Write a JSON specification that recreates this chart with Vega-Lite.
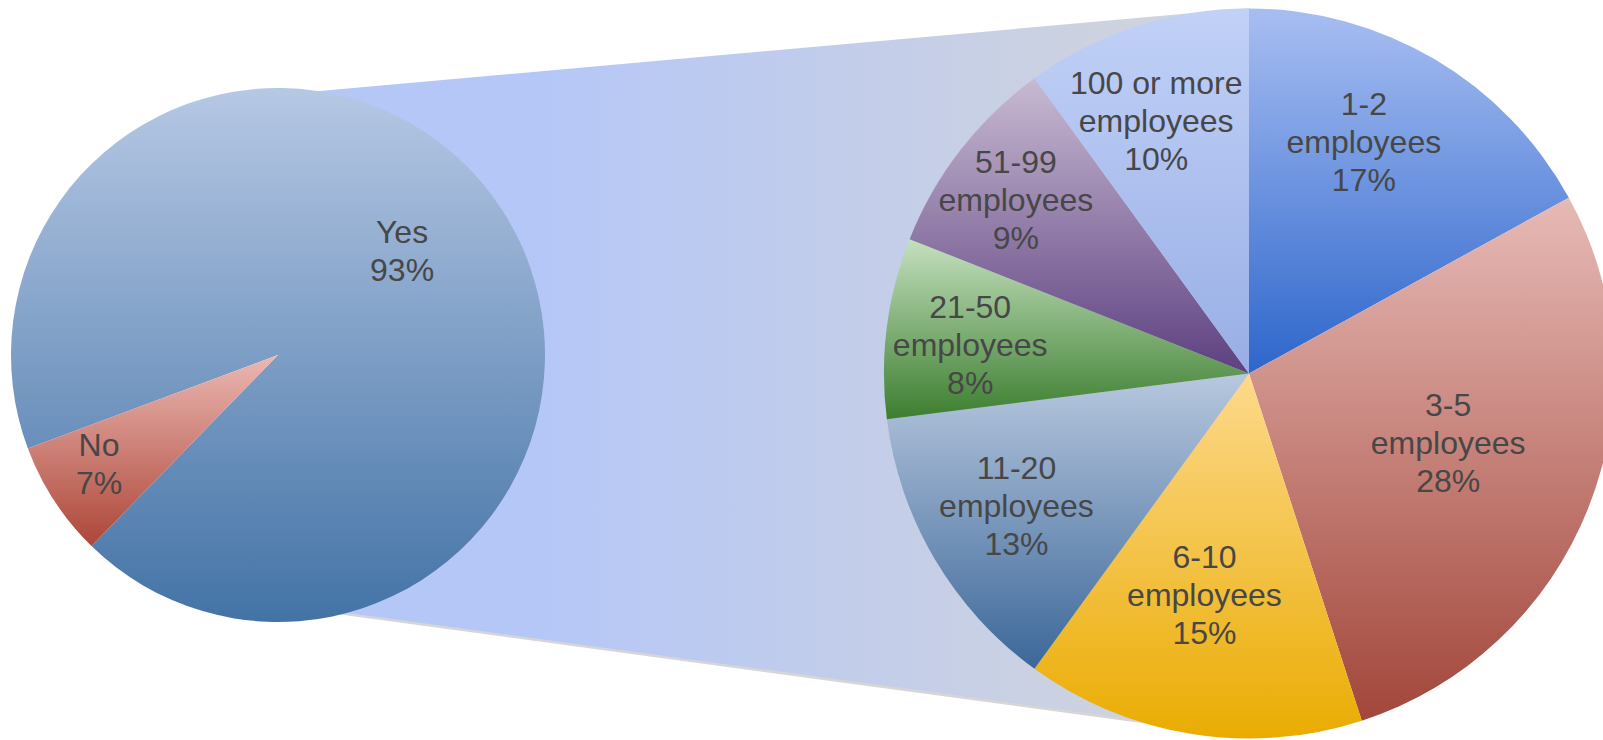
{
  "$schema": "https://vega.github.io/schema/vega-lite/v6.json",
  "width": 1603,
  "height": 740,
  "autosize": {"type": "none"},
  "padding": 0,
  "background": "white",
  "config": {"view": {"stroke": null}, "text": {"font": "Liberation Sans", "fontSize": 32, "lineHeight": 38, "color": "#474747", "lineBreak": "\n", "align": "center", "baseline": "middle"}},
  "datasets": {
    "overall": [
      {"cat": "No", "label": "No", "pct": 7, "rank": 1},
      {"cat": "Yes", "label": "Yes", "pct": 93, "rank": 2}
    ],
    "size": [
      {"cat": "1-2 employees", "label": "1-2\nemployees", "pct": 17, "rank": 1},
      {"cat": "3-5 employees", "label": "3-5\nemployees", "pct": 28, "rank": 2},
      {"cat": "6-10 employees", "label": "6-10\nemployees", "pct": 15, "rank": 3},
      {"cat": "11-20 employees", "label": "11-20\nemployees", "pct": 13, "rank": 4},
      {"cat": "21-50 employees", "label": "21-50\nemployees", "pct": 8, "rank": 5},
      {"cat": "51-99 employees", "label": "51-99\nemployees", "pct": 9, "rank": 6},
      {"cat": "100 or more employees", "label": "100 or more\nemployees", "pct": 10, "rank": 7}
    ],
    "connector": [
      {"x": 300, "top": 92.8, "bottom": 606.6},
      {"x": 1249, "top": 8, "bottom": 735}
    ]
  },
  "layer": [
    {
      "data": {"name": "connector"},
      "mark": {"type": "line", "color": "#8a8a8a", "strokeWidth": 5, "opacity": 0.35},
      "encoding": {
        "x": {"field": "x", "type": "quantitative", "scale": {"domain": [0, 1603], "nice": false, "zero": false}, "axis": null},
        "y": {"field": "bottom", "type": "quantitative", "scale": {"domain": [0, 740], "reverse": true, "nice": false, "zero": false}, "axis": null}
      }
    },
    {
      "data": {"name": "connector"},
      "mark": {"type": "area", "color": {"gradient": "linear", "x1": 0, "y1": 0, "x2": 1, "y2": 0, "stops": [{"offset": 0.25, "color": "#b5c7f7"}, {"offset": 1, "color": "#d3d5da"}]}},
      "encoding": {
        "x": {"field": "x", "type": "quantitative"},
        "y": {"field": "top", "type": "quantitative"},
        "y2": {"field": "bottom"}
      }
    },
    {
      "data": {"name": "overall"},
      "encoding": {
        "x": {"datum": 278, "type": "quantitative"},
        "y": {"datum": 355, "type": "quantitative"},
        "theta": {"field": "pct", "type": "quantitative", "stack": true, "scale": {"domain": [0, 100], "range": [3.915, 10.1982]}},
        "order": {"field": "rank", "type": "quantitative"},
        "opacity": {"condition": {"test": "datum.cat === 'Yes'", "value": 1}, "value": 0}
      },
      "layer": [
        {"mark": {"type": "arc", "outerRadius": 267, "color": {"gradient": "linear", "x1": 0, "y1": 0, "x2": 0, "y2": 1, "stops": [{"offset": 0, "color": "#b6c8e4"}, {"offset": 1, "color": "#4373a6"}]}}},
        {"mark": {"type": "text", "radius": 160, "dx": -10, "dy": -35, "text": {"expr": "datum.label + '\\n' + datum.pct + '%'"}}}
      ]
    },
    {
      "data": {"name": "overall"},
      "encoding": {
        "x": {"datum": 278, "type": "quantitative"},
        "y": {"datum": 355, "type": "quantitative"},
        "theta": {"field": "pct", "type": "quantitative", "stack": true, "scale": {"domain": [0, 100], "range": [3.915, 10.1982]}},
        "order": {"field": "rank", "type": "quantitative"},
        "opacity": {"condition": {"test": "datum.cat === 'No'", "value": 1}, "value": 0}
      },
      "layer": [
        {"mark": {"type": "arc", "outerRadius": 267, "color": {"gradient": "linear", "x1": 0, "y1": 0, "x2": 0, "y2": 1, "stops": [{"offset": 0, "color": "#ebb8b2"}, {"offset": 1, "color": "#ad4638"}]}}},
        {"mark": {"type": "text", "radius": 210, "dx": -3, "dy": -24, "text": {"expr": "datum.label + '\\n' + datum.pct + '%'"}}}
      ]
    },
    {
      "data": {"name": "size"},
      "encoding": {
        "x": {"datum": 1249, "type": "quantitative"},
        "y": {"datum": 373.5, "type": "quantitative"},
        "theta": {"field": "pct", "type": "quantitative", "stack": true, "scale": {"domain": [0, 100], "range": [0, 6.2832]}},
        "order": {"field": "rank", "type": "quantitative"},
        "opacity": {"condition": {"test": "datum.cat === '1-2 employees'", "value": 1}, "value": 0}
      },
      "layer": [
        {"mark": {"type": "arc", "outerRadius": 365, "color": {"gradient": "linear", "x1": 0, "y1": 0, "x2": 0, "y2": 1, "stops": [{"offset": 0, "color": "#a8bef2"}, {"offset": 1, "color": "#2d66cb"}]}}},
        {"mark": {"type": "text", "radius": 257, "dx": -16, "dy": -47, "text": {"expr": "datum.label + '\\n' + datum.pct + '%'"}}}
      ]
    },
    {
      "data": {"name": "size"},
      "encoding": {
        "x": {"datum": 1249, "type": "quantitative"},
        "y": {"datum": 373.5, "type": "quantitative"},
        "theta": {"field": "pct", "type": "quantitative", "stack": true, "scale": {"domain": [0, 100], "range": [0, 6.2832]}},
        "order": {"field": "rank", "type": "quantitative"},
        "opacity": {"condition": {"test": "datum.cat === '3-5 employees'", "value": 1}, "value": 0}
      },
      "layer": [
        {"mark": {"type": "arc", "outerRadius": 365, "color": {"gradient": "linear", "x1": 0, "y1": 0, "x2": 0, "y2": 1, "stops": [{"offset": 0, "color": "#e7bab6"}, {"offset": 1, "color": "#a2463a"}]}}},
        {"mark": {"type": "text", "radius": 211, "dx": 3, "dy": -45, "text": {"expr": "datum.label + '\\n' + datum.pct + '%'"}}}
      ]
    },
    {
      "data": {"name": "size"},
      "encoding": {
        "x": {"datum": 1249, "type": "quantitative"},
        "y": {"datum": 373.5, "type": "quantitative"},
        "theta": {"field": "pct", "type": "quantitative", "stack": true, "scale": {"domain": [0, 100], "range": [0, 6.2832]}},
        "order": {"field": "rank", "type": "quantitative"},
        "opacity": {"condition": {"test": "datum.cat === '6-10 employees'", "value": 1}, "value": 0}
      },
      "layer": [
        {"mark": {"type": "arc", "outerRadius": 365, "color": {"gradient": "linear", "x1": 0, "y1": 0, "x2": 0, "y2": 1, "stops": [{"offset": 0, "color": "#fdd98c"}, {"offset": 1, "color": "#eaac02"}]}}},
        {"mark": {"type": "text", "radius": 227, "dx": -9, "dy": -40, "text": {"expr": "datum.label + '\\n' + datum.pct + '%'"}}}
      ]
    },
    {
      "data": {"name": "size"},
      "encoding": {
        "x": {"datum": 1249, "type": "quantitative"},
        "y": {"datum": 373.5, "type": "quantitative"},
        "theta": {"field": "pct", "type": "quantitative", "stack": true, "scale": {"domain": [0, 100], "range": [0, 6.2832]}},
        "order": {"field": "rank", "type": "quantitative"},
        "opacity": {"condition": {"test": "datum.cat === '11-20 employees'", "value": 1}, "value": 0}
      },
      "layer": [
        {"mark": {"type": "arc", "outerRadius": 365, "color": {"gradient": "linear", "x1": 0, "y1": 0, "x2": 0, "y2": 1, "stops": [{"offset": 0, "color": "#b8c8df"}, {"offset": 1, "color": "#3b6798"}]}}},
        {"mark": {"type": "text", "radius": 269, "dx": -1, "dy": -41, "text": {"expr": "datum.label + '\\n' + datum.pct + '%'"}}}
      ]
    },
    {
      "data": {"name": "size"},
      "encoding": {
        "x": {"datum": 1249, "type": "quantitative"},
        "y": {"datum": 373.5, "type": "quantitative"},
        "theta": {"field": "pct", "type": "quantitative", "stack": true, "scale": {"domain": [0, 100], "range": [0, 6.2832]}},
        "order": {"field": "rank", "type": "quantitative"},
        "opacity": {"condition": {"test": "datum.cat === '21-50 employees'", "value": 1}, "value": 0}
      },
      "layer": [
        {"mark": {"type": "arc", "outerRadius": 365, "color": {"gradient": "linear", "x1": 0, "y1": 0, "x2": 0, "y2": 1, "stops": [{"offset": 0, "color": "#c4e0be"}, {"offset": 1, "color": "#3c7e2f"}]}}},
        {"mark": {"type": "text", "radius": 280, "dx": -1, "dy": -30, "text": {"expr": "datum.label + '\\n' + datum.pct + '%'"}}}
      ]
    },
    {
      "data": {"name": "size"},
      "encoding": {
        "x": {"datum": 1249, "type": "quantitative"},
        "y": {"datum": 373.5, "type": "quantitative"},
        "theta": {"field": "pct", "type": "quantitative", "stack": true, "scale": {"domain": [0, 100], "range": [0, 6.2832]}},
        "order": {"field": "rank", "type": "quantitative"},
        "opacity": {"condition": {"test": "datum.cat === '51-99 employees'", "value": 1}, "value": 0}
      },
      "layer": [
        {"mark": {"type": "arc", "outerRadius": 365, "color": {"gradient": "linear", "x1": 0, "y1": 0, "x2": 0, "y2": 1, "stops": [{"offset": 0, "color": "#c8bad2"}, {"offset": 1, "color": "#5d4080"}]}}},
        {"mark": {"type": "text", "radius": 290, "dx": -4, "dy": -33, "text": {"expr": "datum.label + '\\n' + datum.pct + '%'"}}}
      ]
    },
    {
      "data": {"name": "size"},
      "encoding": {
        "x": {"datum": 1249, "type": "quantitative"},
        "y": {"datum": 373.5, "type": "quantitative"},
        "theta": {"field": "pct", "type": "quantitative", "stack": true, "scale": {"domain": [0, 100], "range": [0, 6.2832]}},
        "order": {"field": "rank", "type": "quantitative"},
        "opacity": {"condition": {"test": "datum.cat === '100 or more employees'", "value": 1}, "value": 0}
      },
      "layer": [
        {"mark": {"type": "arc", "outerRadius": 365, "color": {"gradient": "linear", "x1": 0, "y1": 0, "x2": 0, "y2": 1, "stops": [{"offset": 0, "color": "#c1d1f7"}, {"offset": 1, "color": "#98aee5"}]}}},
        {"mark": {"type": "text", "radius": 268, "dx": -10, "dy": -35, "text": {"expr": "datum.label + '\\n' + datum.pct + '%'"}}}
      ]
    }
  ],
  "resolve": {"scale": {"theta": "independent"}}
}
